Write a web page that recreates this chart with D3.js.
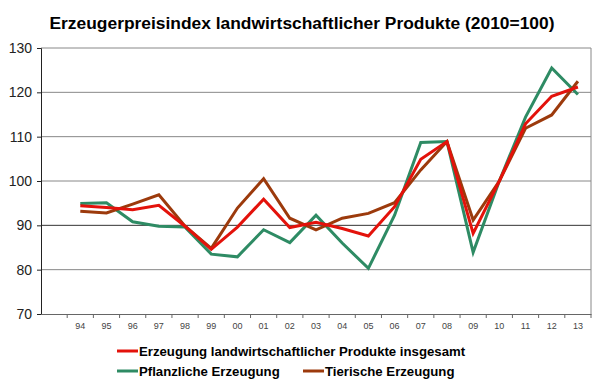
<!DOCTYPE html>
<html>
<head>
<meta charset="utf-8">
<script src="https://cdn.jsdelivr.net/npm/d3@7"></script>
<style>
  body { margin: 0; background: #fff; }
  svg { display: block; font-family: "Liberation Sans", Arial, sans-serif; }
</style>
</head>
<body>
<svg width="600" height="390"></svg>
<script>
const years = ["", "94", "95", "96", "97", "98", "99", "00", "01", "02", "03",
  "04", "05", "06", "07", "08", "09", "10", "11", "12", "13"];
const insgesamt = [94.4, 94.0, 93.5, 94.5, 89.8, 84.6, 89.6, 95.9, 89.5, 90.7,
  89.3, 87.6, 94.2, 104.9, 108.9, 88.2, 100.0, 112.9, 119.1, 121.2];
const pflanzlich = [94.9, 95.1, 90.8, 89.8, 89.6, 83.5, 82.9, 89.0, 86.1, 92.3,
  86.0, 80.3, 92.3, 108.7, 108.9, 83.9, 100.0, 114.4, 125.5, 119.5];
const tierisch = [93.2, 92.8, 94.8, 96.9, 89.8, 84.8, 93.9, 100.5, 91.6, 89.0,
  91.6, 92.7, 95.1, 102.5, 108.9, 91.2, 100.0, 111.9, 114.9, 122.5];
const yTicks = [70, 80, 90, 100, 110, 120, 130];

const series = [
  { name: "Erzeugung landwirtschaftlicher Produkte insgesamt", values: insgesamt, color: "#e3120b" },
  { name: "Pflanzliche Erzeugung", values: pflanzlich, color: "#2e8b64" },
  { name: "Tierische Erzeugung", values: tierisch, color: "#9c3a0c" },
];

const svg = d3.select("svg");
const plotLeft = 41, plotRight = 591, plotTop = 48, plotBottom = 314;

const x = d3.scaleBand().domain(years).range([plotLeft, plotRight]);
const y = d3.scaleLinear().domain([70, 130]).range([plotBottom, plotTop]);

svg.append("text")
  .attr("x", 302)
  .attr("y", 29)
  .attr("text-anchor", "middle")
  .attr("font-size", 17.4)
  .attr("font-weight", "bold")
  .text("Erzeugerpreisindex landwirtschaftlicher Produkte (2010=100)");

// grid
svg.append("g")
  .selectAll("line")
  .data(yTicks.filter((d) => d > 70))
  .enter()
  .append("line")
  .attr("x1", plotLeft)
  .attr("x2", plotRight)
  .attr("y1", (d) => y(d))
  .attr("y2", (d) => y(d))
  .attr("stroke", (d) => (d === 90 ? "#333" : "#888"))
  .attr("stroke-width", 1);

svg.append("line")
  .attr("x1", plotRight).attr("x2", plotRight)
  .attr("y1", plotTop).attr("y2", plotBottom)
  .attr("stroke", "#888");

// y axis
const yAxis = svg.append("g")
  .attr("transform", `translate(${plotLeft},0)`)
  .call(d3.axisLeft(y).tickValues(yTicks).tickSize(4).tickPadding(5));
yAxis.select(".domain").attr("stroke", "#222");
yAxis.selectAll(".tick line").attr("stroke", "#222");
yAxis.selectAll("text")
  .attr("font-size", 14)
  .attr("font-family", "Liberation Sans, Arial, sans-serif")
  .attr("fill", "#222");

// x axis
const xAxis = svg.append("g")
  .attr("transform", `translate(0,${plotBottom})`)
  .call(d3.axisBottom(x).tickSize(0).tickPadding(9));
xAxis.select(".domain").attr("stroke", "#666");
xAxis.selectAll("text")
  .attr("font-size", 9)
  .attr("font-family", "Liberation Sans, Arial, sans-serif")
  .attr("fill", "#444");
xAxis.append("g")
  .selectAll("line")
  .data(years)
  .enter()
  .append("line")
  .attr("x1", (d) => x(d) + x.bandwidth())
  .attr("x2", (d) => x(d) + x.bandwidth())
  .attr("y1", 0)
  .attr("y2", 4)
  .attr("stroke", "#666");

// lines
const line = d3.line()
  .x((d, i) => x(years[i + 1]) + x.bandwidth() / 2)
  .y((d) => y(d));

svg.append("g")
  .selectAll("path")
  .data([series[1], series[2], series[0]])
  .enter()
  .append("path")
  .attr("fill", "none")
  .attr("stroke", (d) => d.color)
  .attr("stroke-width", 3)
  .attr("stroke-linejoin", "miter")
  .attr("d", (d) => line(d.values));

// legend
const legendPos = [
  { x: 117, y: 351 },
  { x: 117, y: 371 },
  { x: 303, y: 371 },
];
const legend = svg.append("g")
  .selectAll("g")
  .data(series)
  .enter()
  .append("g")
  .attr("transform", (d, i) => `translate(${legendPos[i].x},${legendPos[i].y})`);
legend.append("line")
  .attr("x1", 0)
  .attr("x2", 21)
  .attr("stroke", (d) => d.color)
  .attr("stroke-width", 3);
legend.append("text")
  .attr("x", 22)
  .attr("dy", "0.35em")
  .attr("font-size", 13.2)
  .attr("font-weight", "bold")
  .text((d) => d.name);
</script>
</body>
</html>
